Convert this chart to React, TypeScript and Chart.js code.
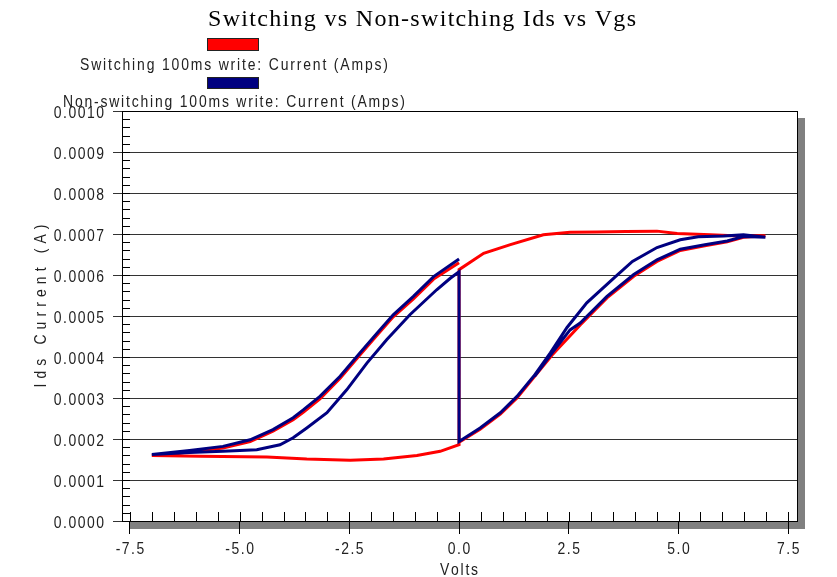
import React, { useEffect, useRef } from 'react';
import { Chart, registerables } from 'chart.js';

Chart.register(...registerables);

const TITLE = 'Switching vs Non-switching Ids vs Vgs';
const SERIES_NAMES = [
  'Switching 100ms write: Current (Amps)',
  'Non-switching 100ms write: Current (Amps)',
];
const X_TITLE = 'Volts';
const Y_TITLE = 'Ids Current (A)';

const X_MIN = -7.68;
const X_MAX = 7.7;
const Y_MIN = 0;
const Y_MAX = 0.001;
const X_TICKS = [-7.5, -5.0, -2.5, 0.0, 2.5, 5.0, 7.5];
const Y_TICKS = [0, 0.0001, 0.0002, 0.0003, 0.0004, 0.0005, 0.0006, 0.0007, 0.0008, 0.0009, 0.001];
const X_MINOR_STEP = 0.5;
const Y_MINOR_STEP = 0.00002;

// Switching sweep (red)
const SWITCH_V = [
  0.0, -0.58, -1.04, -1.5, -1.87, -2.26, -2.71, -3.17, -3.55, -3.78, -4.24, -4.76, -5.38, -6.14, -7.0,
  -5.9, -4.38, -3.47, -2.48, -1.72, -0.96, -0.43, 0.0,
  0.0, 0.56, 1.17, 1.92, 2.53, 3.14, 3.8, 4.51, 4.97, 5.73, 6.25, 6.98,
  6.48, 6.11, 5.6, 5.04, 4.51, 3.98, 3.37, 2.76, 2.12, 1.7, 1.32, 0.94, 0.48, 0.0,
];
const SWITCH_I = [
  0.00063, 0.00059, 0.000542, 0.000498, 0.000453, 0.000405, 0.000348, 0.000298, 0.000265, 0.000247, 0.000219, 0.000194, 0.000178, 0.000168, 0.00016,
  0.000158, 0.000156, 0.000151, 0.000148, 0.000151, 0.00016, 0.00017, 0.000186,
  0.000613, 0.000653, 0.000674, 0.000698, 0.000704, 0.000705, 0.000706, 0.000707, 0.000701, 0.000698, 0.000696, 0.000696,
  0.000692, 0.000681, 0.000671, 0.00066, 0.000633, 0.000597, 0.000544, 0.000478, 0.000405, 0.00035, 0.0003, 0.000261, 0.000224, 0.000192,
];

// Non-switching sweep (navy)
const NONSWITCH_V = [
  0.0, -0.58, -1.04, -1.5, -1.87, -2.26, -2.71, -3.17, -3.55, -3.78, -4.24, -4.76, -5.38, -6.14, -7.0,
  -6.14, -5.38, -4.61, -4.08, -3.78, -3.47, -3.01, -2.56, -2.1, -1.65, -1.12, -0.51, -0.2, 0.0,
  0.0, 0.48, 0.94, 1.32, 1.7, 2.08, 2.46, 2.91, 3.52, 3.95, 4.51, 5.04, 5.45, 6.03, 6.48, 6.98,
  6.48, 6.11, 5.6, 5.04, 4.51, 3.98, 3.37, 2.76, 2.53, 2.12, 1.72,
];
const NONSWITCH_I = [
  0.000639, 0.000596, 0.000548, 0.000503, 0.000458, 0.00041, 0.000353, 0.000304, 0.000271, 0.000252, 0.000223, 0.000198, 0.000182, 0.000172, 0.000162,
  0.000167, 0.00017, 0.000174, 0.000186, 0.000203, 0.000227, 0.000264, 0.00032, 0.000385, 0.000442, 0.000503, 0.000564, 0.000592, 0.000608,
  0.000194, 0.000227, 0.000264, 0.000304, 0.000353, 0.00041, 0.000472, 0.000532, 0.000592, 0.000633, 0.000667, 0.000686, 0.000693, 0.000695, 0.000698, 0.000692,
  0.000694, 0.000683, 0.000674, 0.000663, 0.000637, 0.000601, 0.000548, 0.000483, 0.000466, 0.00041, 0.000353,
];

const RED = '#ff0000';
const NAVY = '#000080';
const SANS = '"Liberation Sans", Arial, sans-serif';
const SERIF = '"Liberation Serif", "Times New Roman", "DejaVu Serif", serif';
const NARROW_SCALE = 0.82;

function drawSpaced(
  ctx: CanvasRenderingContext2D,
  text: string,
  x: number,
  y: number,
  opts: { spacing?: number; width?: number; align?: 'left' | 'center' | 'right'; hscale?: number }
) {
  const hs = opts.hscale ?? 1;
  const chars = Array.from(text);
  const widths = chars.map((c) => ctx.measureText(c).width * hs);
  const raw = widths.reduce((a, b) => a + b, 0);
  let spacing = opts.spacing ?? 0;
  if (opts.width !== undefined && chars.length > 1) spacing = (opts.width - raw) / (chars.length - 1);
  const total = raw + spacing * (chars.length - 1);
  const align = opts.align ?? 'left';
  let cur = align === 'center' ? x - total / 2 : align === 'right' ? x - total : x;
  ctx.textAlign = 'left';
  chars.forEach((c, i) => {
    ctx.save();
    ctx.translate(cur, y);
    ctx.scale(hs, 1);
    ctx.fillText(c, 0, 0);
    ctx.restore();
    cur += widths[i] + spacing;
  });
}

const framePlugin = {
  id: 'framePlugin',
  beforeDraw(chart: any) {
    const { ctx, chartArea: a, width, height } = chart;
    ctx.save();
    ctx.fillStyle = '#ffffff';
    ctx.fillRect(0, 0, width, height);
    ctx.fillStyle = '#808080';
    ctx.fillRect(a.left + 7, a.top + 7, a.right - a.left + 1, a.bottom - a.top + 1);
    ctx.fillStyle = '#ffffff';
    ctx.fillRect(a.left, a.top, a.right - a.left, a.bottom - a.top);
    ctx.restore();
  },
  afterDraw(chart: any) {
    const { ctx, chartArea: a } = chart;
    const xs = chart.scales.x;
    const ys = chart.scales.y;
    ctx.save();
    // frame
    ctx.strokeStyle = '#000';
    ctx.lineWidth = 1;
    ctx.strokeRect(Math.round(a.left) + 0.5, Math.round(a.top) + 0.5, Math.round(a.right - a.left), Math.round(a.bottom - a.top));

    // x minor + inner major ticks
    ctx.beginPath();
    const nx = Math.round((X_TICKS[X_TICKS.length - 1] - X_TICKS[0]) / X_MINOR_STEP);
    for (let i = 0; i <= nx; i++) {
      const v = X_TICKS[0] + i * X_MINOR_STEP;
      const px = Math.round(xs.getPixelForValue(v)) + 0.5;
      ctx.moveTo(px, a.bottom);
      ctx.lineTo(px, a.bottom - 9);
    }
    // y minor ticks
    const ny = Math.round((Y_MAX - Y_MIN) / Y_MINOR_STEP);
    for (let i = 0; i <= ny; i++) {
      const v = Y_MIN + i * Y_MINOR_STEP;
      const py = Math.round(ys.getPixelForValue(v)) + 0.5;
      ctx.moveTo(a.left, py);
      ctx.lineTo(a.left + 8, py);
    }
    ctx.stroke();

    // tick labels
    ctx.fillStyle = '#222';
    ctx.textBaseline = 'alphabetic';
    ctx.font = `17px ${SANS}`;
    Y_TICKS.forEach((v) => {
      const py = ys.getPixelForValue(v);
      drawSpaced(ctx, v.toFixed(4), 104, py + 6.5, { spacing: 1.5, align: 'right', hscale: NARROW_SCALE });
    });
    X_TICKS.forEach((v) => {
      const px = xs.getPixelForValue(v);
      drawSpaced(ctx, v.toFixed(1), px, 554, { spacing: 1.5, align: 'center', hscale: NARROW_SCALE });
    });

    // axis titles
    drawSpaced(ctx, X_TITLE, xs.getPixelForValue(0), 575, { width: 38, align: 'center', hscale: NARROW_SCALE });
    ctx.save();
    ctx.translate(46, (a.top + a.bottom) / 2 - 10);
    ctx.rotate(-Math.PI / 2);
    drawSpaced(ctx, Y_TITLE, 0, 0, { width: 163, align: 'center', hscale: NARROW_SCALE });
    ctx.restore();

    // title
    ctx.fillStyle = '#000';
    ctx.font = `24px ${SERIF}`;
    drawSpaced(ctx, TITLE, 422, 26, { width: 428, align: 'center' });

    // legend
    const boxes = [
      { color: RED, y: 38, h: 13, text: SERIES_NAMES[0], base: 70, w: 308 },
      { color: NAVY, y: 77, h: 12, text: SERIES_NAMES[1], base: 107, w: 342 },
    ];
    ctx.font = `17px ${SANS}`;
    boxes.forEach((b) => {
      ctx.fillStyle = b.color;
      ctx.fillRect(207, b.y, 52, b.h);
      ctx.strokeStyle = '#222';
      ctx.strokeRect(207.5, b.y + 0.5, 51, b.h - 1);
      ctx.fillStyle = '#222';
      drawSpaced(ctx, b.text, 234, b.base, { width: b.w, align: 'center', hscale: NARROW_SCALE });
    });
    ctx.restore();
  },
};

export default function App() {
  const ref = useRef<HTMLCanvasElement>(null);
  useEffect(() => {
    const canvas = ref.current;
    if (!canvas) return;
    const toPts = (xs: number[], ys: number[]) => xs.map((x, i) => ({ x, y: ys[i] }));
    const chart = new Chart(canvas, {
      type: 'scatter',
      data: {
        datasets: [
          {
            label: SERIES_NAMES[0],
            data: toPts(SWITCH_V, SWITCH_I),
            showLine: true,
            borderColor: RED,
            backgroundColor: RED,
            borderWidth: 3,
            pointRadius: 0,
            tension: 0,
            order: 2,
          },
          {
            label: SERIES_NAMES[1],
            data: toPts(NONSWITCH_V, NONSWITCH_I),
            showLine: true,
            borderColor: NAVY,
            backgroundColor: NAVY,
            borderWidth: 3,
            pointRadius: 0,
            tension: 0,
            order: 1,
          },
        ],
      },
      options: {
        animation: false,
        responsive: false,
        layout: { padding: { left: 0, top: 111, right: 40, bottom: 0 } },
        plugins: {
          legend: { display: false },
          title: { display: false },
          tooltip: { enabled: false },
        },
        scales: {
          x: {
            type: 'linear',
            min: X_MIN,
            max: X_MAX,
            afterBuildTicks: (s: any) => {
              s.ticks = X_TICKS.map((v) => ({ value: v }));
            },
            afterFit: (s: any) => {
              s.height = 56;
            },
            ticks: { display: false },
            grid: { drawOnChartArea: false, drawTicks: true, tickLength: 13, color: '#000', lineWidth: 1 },
            border: { display: true, color: '#000', width: 1 },
          },
          y: {
            type: 'linear',
            min: Y_MIN,
            max: Y_MAX,
            afterBuildTicks: (s: any) => {
              s.ticks = Y_TICKS.map((v) => ({ value: v }));
            },
            afterFit: (s: any) => {
              s.width = 122;
            },
            ticks: { display: false },
            grid: { drawOnChartArea: true, drawTicks: true, tickLength: 9, color: '#333', lineWidth: 1 },
            border: { display: true, color: '#000', width: 1 },
          },
        },
      },
      plugins: [framePlugin],
    });
    return () => chart.destroy();
  }, []);

  return (
    <div style={{ position: 'fixed', left: 0, top: 0, width: 837, height: 577, background: '#fff' }}>
      <canvas ref={ref} width={837} height={577} style={{ display: 'block' }} />
    </div>
  );
}
